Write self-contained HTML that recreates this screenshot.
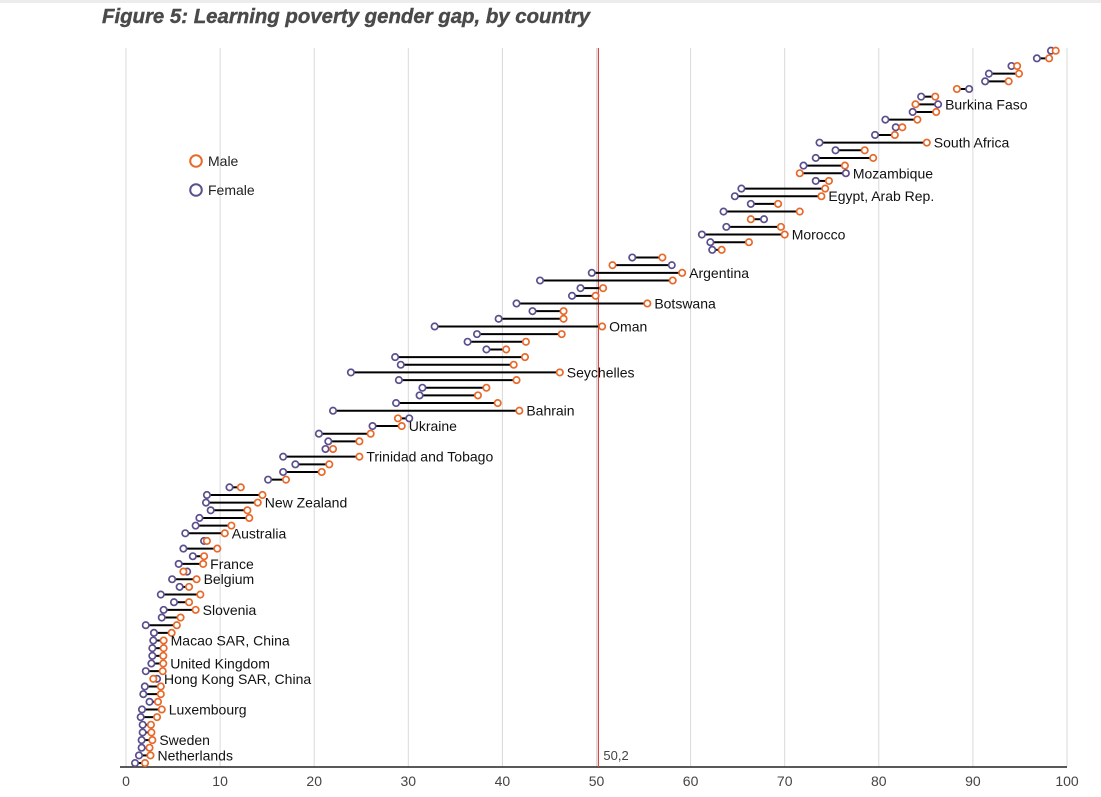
<!DOCTYPE html>
<html><head><meta charset="utf-8"><style>
html,body{margin:0;padding:0;background:#fff;}
svg{display:block;font-family:"Liberation Sans",sans-serif;}
</style></head><body>
<svg id="chart" width="1101" height="797" viewBox="0 0 1101 797">
<rect x="0" y="0" width="1101" height="3" fill="#ececec"/>
<text x="102" y="23" font-size="20" font-weight="bold" font-style="italic" fill="#4a4a4a" stroke="#4a4a4a" stroke-width="0.4" textLength="488" lengthAdjust="spacingAndGlyphs">Figure 5: Learning poverty gender gap, by country</text>
<g id="grid"></g>
<g id="marks"></g>
<g id="legend">
<circle cx="196" cy="161" r="5.8" fill="#fff" stroke="#e8692a" stroke-width="2"/>
<text x="208" y="166" font-size="14" fill="#222">Male</text>
<circle cx="196" cy="190" r="5.8" fill="#fff" stroke="#5b4f8e" stroke-width="2"/>
<text x="208" y="195" font-size="14" fill="#222">Female</text>
</g>
</svg>
<script>
const female=[98.3,96.8,94.1,91.7,91.3,89.6,84.5,86.3,83.6,80.7,81.8,79.6,73.7,75.4,73.3,72.0,76.5,73.3,65.4,64.7,66.4,63.5,67.8,63.8,61.2,62.1,62.3,53.8,58.0,49.5,44.0,48.3,47.4,41.5,43.2,39.6,32.8,37.3,36.3,38.3,28.6,29.2,23.9,29.0,31.5,31.2,28.7,22.0,30.1,26.2,20.5,21.5,21.2,16.7,18.0,16.7,15.1,11.0,8.6,8.5,9.0,7.8,7.4,6.3,8.3,6.1,7.1,5.6,6.5,4.9,5.7,3.7,5.1,4.0,3.8,2.1,2.97,2.9,2.8,2.8,2.7,2.1,3.3,2.0,1.84,2.5,1.7,1.56,1.77,1.77,1.66,1.66,1.38,0.96];
const male=[98.8,98.1,94.7,94.9,93.8,88.3,86.0,83.9,86.1,84.1,82.5,81.7,85.1,78.5,79.4,76.4,71.6,74.7,74.3,73.9,69.3,71.6,66.4,69.6,70.0,66.2,63.3,57.0,51.7,59.1,58.1,50.7,49.9,55.4,46.5,46.5,50.6,46.3,42.5,40.4,42.4,41.2,46.1,41.5,38.3,37.4,39.5,41.8,28.9,29.3,26.0,24.8,22.0,24.8,21.6,20.8,17.0,12.2,14.5,14.0,12.9,13.1,11.2,10.5,8.6,9.7,8.3,8.2,6.1,7.5,6.7,7.9,6.7,7.4,5.8,5.4,4.85,4.0,4.0,3.96,3.96,3.9,2.9,3.7,3.7,3.4,3.8,3.3,2.65,2.7,2.8,2.5,2.6,2.02];
const labelRows=[7,12,16,19,24,29,33,36,42,47,49,53,59,63,67,69,73,77,80,82,86,90,92];
const labelNames=["Burkina Faso","South Africa","Mozambique","Egypt, Arab Rep.","Morocco","Argentina","Botswana","Oman","Seychelles","Bahrain","Ukraine","Trinidad and Tobago","New Zealand","Australia","France","Belgium","Slovenia","Macao SAR, China","United Kingdom","Hong Kong SAR, China","Luxembourg","Sweden","Netherlands"];
const xTicks=[0,10,20,30,40,50,60,70,80,90,100];
const refValue=50.2;
const refLabel="50,2";

const NS="http://www.w3.org/2000/svg";
const X0=126,X1=1067,YTOP=48,YBOT=767,ROW0=50.7,ROWSTEP=7.66;
const xs=v=>X0+(X1-X0)*v/100;
const ys=i=>ROW0+i*ROWSTEP;
function mk(tag,attrs,parent){const e=document.createElementNS(NS,tag);for(const k in attrs)e.setAttribute(k,attrs[k]);parent.appendChild(e);return e;}
const grid=document.getElementById('grid'),marks=document.getElementById('marks');
xTicks.forEach(t=>{
  const l=mk('line',{x1:xs(t),x2:xs(t),y1:YBOT,y2:YTOP,stroke:'#d9d9d9','stroke-width':1},grid);
  
  
  const tx=mk('text',{x:xs(t),y:786,'font-size':14,fill:'#444','text-anchor':'middle'},grid);
  tx.textContent=t;
  
  
});
const ax=mk('line',{x1:120,x2:X1,y1:YBOT,y2:YBOT,stroke:'#222','stroke-width':1.5},grid);


const rl=mk('line',{x1:xs(refValue),x2:xs(refValue),y1:YTOP,y2:YBOT,stroke:'#d6453d','stroke-width':1.2},grid);


const rt=mk('text',{x:xs(refValue)+5,y:760,'font-size':13,fill:'#444'},grid);
rt.textContent=refLabel;



female.forEach((f,i)=>{
  const m=male[i],y=ys(i);
  const g=mk('g',{},marks);
  
  
  const ln=mk('line',{x1:xs(f),x2:xs(m),y1:y,y2:y,stroke:'#000','stroke-width':2},g);
  
  
  const cf=mk('circle',{cx:xs(f),cy:y,r:3.2,fill:'#fff',stroke:'#5b4f8e','stroke-width':1.7},g);
  
  
  const cm=mk('circle',{cx:xs(m),cy:y,r:3.2,fill:'#fff',stroke:'#e8692a','stroke-width':1.7},g);
  
  
});
labelRows.forEach((r,k)=>{
  const mx=Math.max(female[r],male[r]);
  const t=mk('text',{x:xs(mx)+7,y:ys(r)+5,'font-size':14,fill:'#111'},marks);
  t.textContent=labelNames[k];
  
  
});
</script>
</body></html>
